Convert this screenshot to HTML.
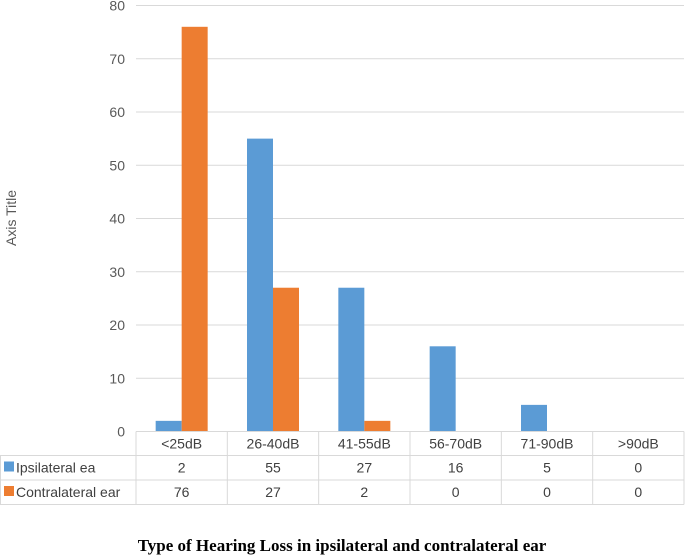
<!DOCTYPE html>
<html><head><meta charset="utf-8"><style>
body{margin:0;background:#fff;width:685px;height:556px;overflow:hidden}
svg{display:block}
text{font-family:"Liberation Sans",sans-serif}
</style></head><body>
<svg id="chart" width="685" height="556">
<text x="16" y="218" transform="rotate(-90 16 218)" text-anchor="middle" font-size="14" fill="#595959">Axis Title</text>
<text x="342" y="551" text-anchor="middle" font-size="17" font-weight="bold" style="font-family:'Liberation Serif',serif" fill="#000">Type of Hearing Loss in ipsilateral and contralateral ear</text>
</svg>
<script>
const categories=["<25dB","26-40dB","41-55dB","56-70dB","71-90dB",">90dB"];
const ipsilateral=[2,55,27,16,5,0];
const contralateral=[76,27,2,0,0,0];
const yTicks=[0,10,20,30,40,50,60,70,80];
const seriesNames=["Ipsilateral ea","Contralateral ear"];
const colors=["#5b9bd5","#ed7d31"];
const svg=document.getElementById('chart');
const NS='http://www.w3.org/2000/svg';
const x0=136,x1=684,y0=431.5,yTop=5.5,yMax=80;
const colW=(x1-x0)/categories.length;
const y=v=>y0-(v/yMax)*(y0-yTop);
const xc=i=>x0+colW*(i+0.5);
function el(t,a){const e=document.createElementNS(NS,t);for(const k in a)e.setAttribute(k,a[k]);svg.appendChild(e);return e;}
yTicks.forEach(t=>{
  if(t>0){const g=el('line',{x1:x0,x2:x1,y1:y(t),y2:y(t),stroke:'#d9d9d9','stroke-width':1});
  
  }
  const l=el('text',{x:125,y:y(t)+5,'text-anchor':'end','font-size':14,fill:'#595959'});
  l.textContent=t;
  
  
});
const bw=26;
[ipsilateral,contralateral].forEach((s,si)=>{
  s.forEach((v,i)=>{
    const bx=xc(i)-bw+si*bw;
    const r=el('rect',{x:bx,y:y(v),width:bw,height:y0-y(v),fill:colors[si]});
    
    
  });
});
// table
const rows=[431.5,455.5,480,504.5];
const lc='#d9d9d9';
el('line',{x1:x0,x2:x1,y1:rows[0],y2:rows[0],stroke:lc});
for(let r=1;r<4;r++)el('line',{x1:0,x2:x1,y1:rows[r],y2:rows[r],stroke:lc});
for(let c=0;c<=categories.length;c++)el('line',{x1:x0+c*colW,x2:x0+c*colW,y1:rows[0],y2:rows[3],stroke:lc});
el('line',{x1:0.5,x2:0.5,y1:rows[1],y2:rows[3],stroke:lc});
categories.forEach((c,i)=>{
  const t=el('text',{x:xc(i),y:rows[0]+17,'text-anchor':'middle','font-size':14,fill:'#404040'});
  t.textContent=c;
  
  
});
[ipsilateral,contralateral].forEach((s,si)=>{
  const ry=rows[si+1];
  const sw=el('rect',{x:4,y:ry+6,width:10,height:10,fill:colors[si]});
  
  
  const n=el('text',{x:16,y:ry+17,'font-size':14,fill:'#404040'});
  n.textContent=seriesNames[si];
  
  
  s.forEach((v,i)=>{
    const t=el('text',{x:xc(i),y:ry+17,'text-anchor':'middle','font-size':14,fill:'#404040'});
    t.textContent=v;
    
    
  });
});
</script>
</body></html>
